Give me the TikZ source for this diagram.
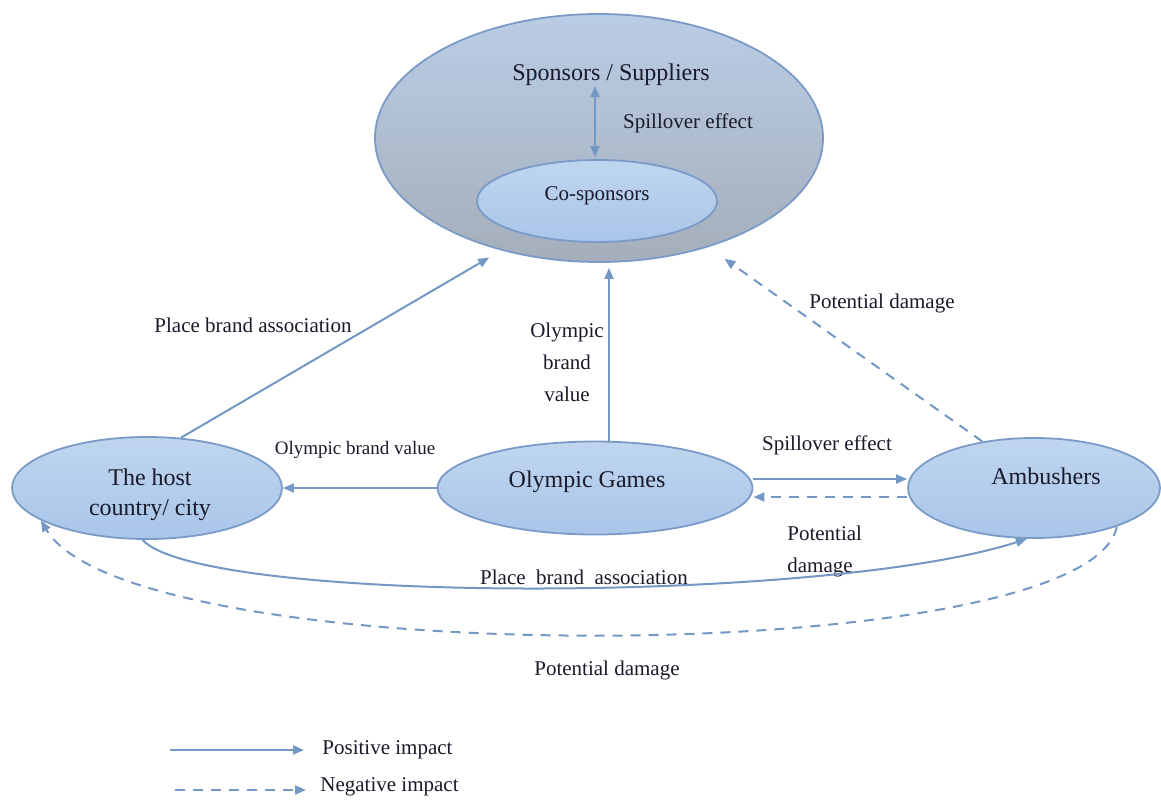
\documentclass[tikz,border=0pt]{standalone}
\usepackage{fontspec}
\setmainfont{Liberation Serif}
\usetikzlibrary{arrows.meta,shapes.geometric,calc}
\definecolor{arrc}{HTML}{7398C6}
\definecolor{edgec}{HTML}{7A9BC8}
\definecolor{smalltop}{HTML}{C0D6EF}
\definecolor{smallbot}{HTML}{A9C5E8}
\definecolor{bigtop}{HTML}{BACDE6}
\definecolor{bigbot}{HTML}{A5AEBA}
\definecolor{txtc}{HTML}{1A1A2A}
\tikzset{
  smallell/.style={ellipse, draw=edgec, line width=0.9pt, inner sep=0pt, top color=smalltop, bottom color=smallbot},
  bigell/.style={ellipse, draw=edgec, line width=0.9pt, inner sep=0pt, top color=bigtop, bottom color=bigbot},
  maintxt/.style={font=\fontsize{12}{15}\selectfont, text=txtc, align=center, inner sep=0pt},
  lbl/.style={font=\fontsize{10.5}{16}\selectfont, text=txtc, align=center, inner sep=0pt},
  posarr/.style={draw=arrc, line width=1pt, -{Triangle[length=5.5pt,width=4.5pt]}},
  negarr/.style={draw=arrc, line width=1pt, dash pattern=on 5pt off 4pt, -{Triangle[length=5.5pt,width=4.5pt]}},
}
\begin{document}
\begin{tikzpicture}[x=0.5pt,y=-0.5pt]
\useasboundingbox (0,0) rectangle (1161,805);
\fill[white] (0,0) rectangle (1161,805);
% ellipses
\node[bigell, minimum width=224pt, minimum height=124pt] (spons) at (599,138) {};
\node[smallell, minimum width=120pt, minimum height=41pt] (cos) at (597,201) {};
\node[smallell, minimum width=135pt, minimum height=51pt] (host) at (147,488) {};
\node[smallell, minimum width=157.5pt, minimum height=46.5pt] (og) at (595,488) {};
\node[smallell, minimum width=126pt, minimum height=50pt] (amb) at (1034,488) {};
% node texts
\node[maintxt] (spt) at (611,75) {Sponsors / Suppliers};
\node[lbl] (cot) at (597,196) {Co-sponsors};
\node[maintxt] (hostt) at (150,495) {The host\\country/ city};
\node[maintxt] (ogt) at (587,482) {Olympic Games};
\node[maintxt] (ambt) at (1046,476) {Ambushers};
% spillover inside sponsors
\coordinate (sa) at (595,86);
\coordinate (sb) at (595,157);
\draw[draw=arrc, line width=1pt, {Triangle[length=5.5pt,width=4.5pt]}-{Triangle[length=5.5pt,width=4.5pt]}] (sa) -- (sb);
\node[lbl] (spl1) at (688,123) {Spillover effect};
% host -> sponsors
\draw[posarr, shorten >=7pt] (host.56) -- (spons.229);
\node[lbl] (pba1) at (253,325) {Place brand association};
% og -> sponsors
\draw[posarr, shorten >=2.5pt] ([xshift=7pt]og.north) -- ([xshift=5pt]spons.south);
\node[lbl] (obv1) at (567,362) {Olympic\\brand\\value};
% ambushers -> sponsors
\draw[negarr, shorten >=10pt] (amb.138) -- (spons.315);
\node[lbl] (pd1) at (882,303) {Potential damage};
% og -> host
\draw[posarr] (og.west) -- (host.east);
\node[lbl, font=\fontsize{9.5}{12}\selectfont] (obv2) at (355,450) {Olympic brand value};
% og <-> ambushers
\draw[posarr] ([yshift=4.5pt]og.east) -- ([yshift=4.5pt]amb.west);
\node[lbl] (spl2) at (827,445) {Spillover effect};
\draw[negarr] ([yshift=-4.5pt]amb.west) -- ([yshift=-4.5pt]og.east);
\node[lbl, align=left, anchor=west] (pd2) at (787,551) {Potential\\damage};
% host -> ambushers curve
\draw[posarr] (host.265) .. controls +(60,65) and +(-200,65) .. (amb.262);
\node[lbl] (pba2) at (584,577) {Place \ brand \ association};
% ambushers -> host dashed curve
\draw[negarr] (amb.335) .. controls +(-27,143) and +(90,153) .. (host.197);
\node[lbl] (pd3) at (607,670) {Potential damage};
% legend
\coordinate (l1a) at (170,750);
\coordinate (l1b) at (304,750);
\draw[posarr] (l1a) -- (l1b);
\node[lbl, anchor=west] (leg1) at (322,750) {Positive impact};
\coordinate (l2a) at (175,790);
\coordinate (l2b) at (306,790);
\draw[negarr] (l2a) -- (l2b);
\node[lbl, anchor=west] (leg2) at (320,787) {Negative impact};
\end{tikzpicture}
\end{document}
